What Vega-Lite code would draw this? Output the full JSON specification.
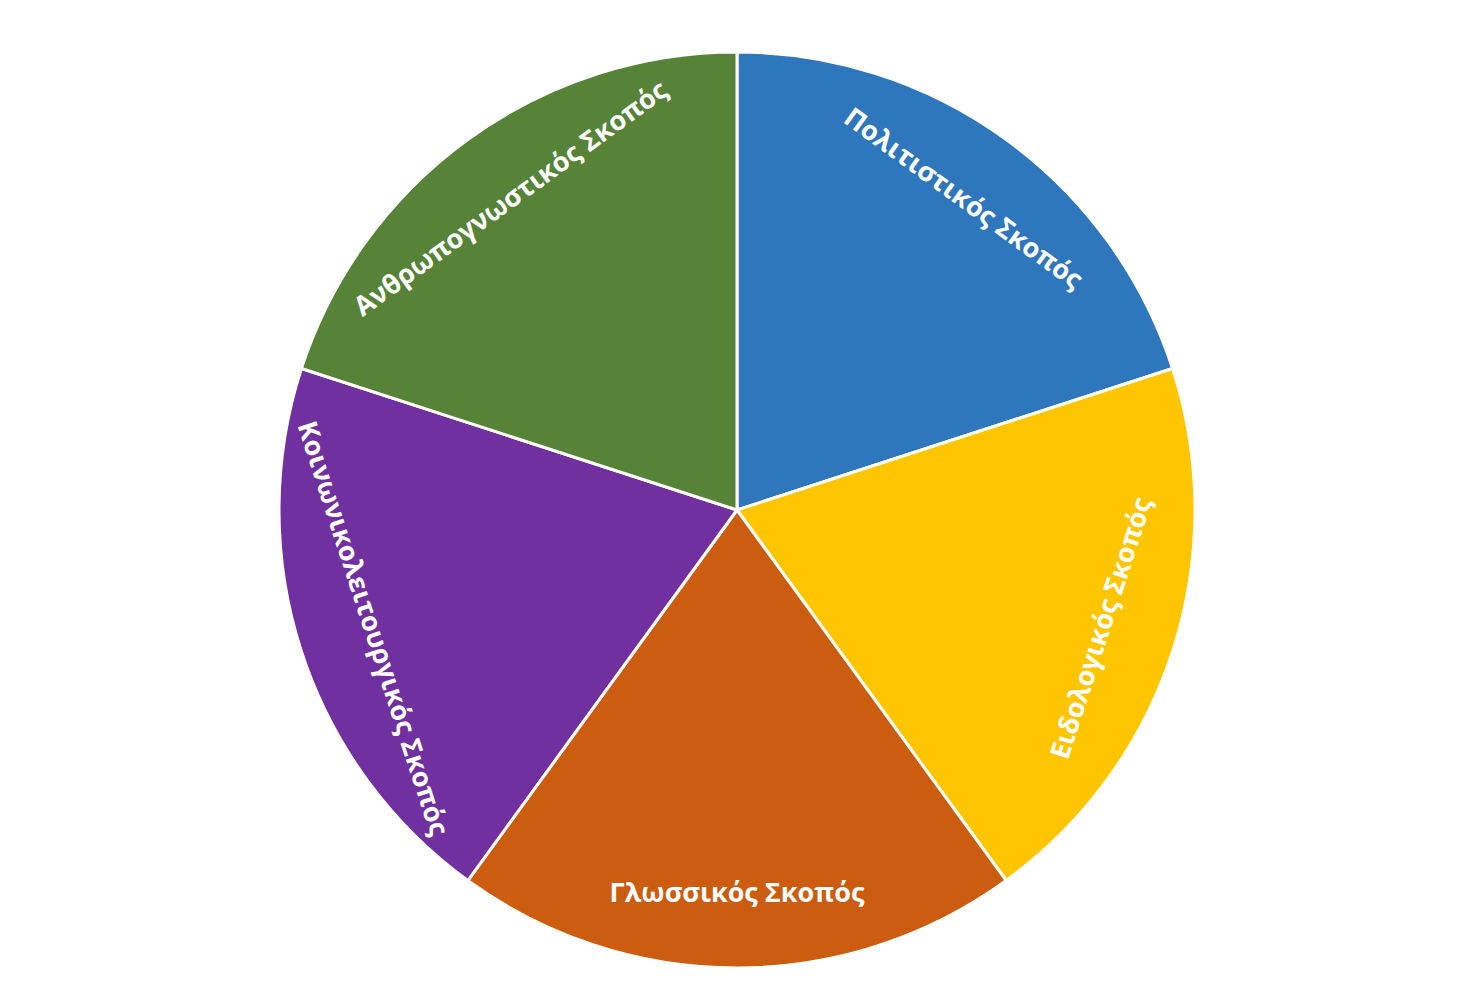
{
  "$schema": "https://vega.github.io/schema/vega-lite/v6.json",
  "autosize": {"type": "fit", "contains": "padding"},
  "width": 1466,
  "height": 987,
  "padding": {"left": 282, "right": 274, "top": 55, "bottom": 22},
  "background": "white",
  "config": {"view": {"stroke": null}},
  "data": {
    "values": [
      {"rank": 1, "label": "Πολιτιστικός  Σκοπός", "share": 20},
      {"rank": 2, "label": "Ειδολογικός Σκοπός", "share": 20},
      {"rank": 3, "label": "Γλωσσικός Σκοπός", "share": 20},
      {"rank": 4, "label": "Κοινωνικολειτουργικός Σκοπός", "share": 20},
      {"rank": 5, "label": "Ανθρωπογνωστικός Σκοπός", "share": 20}
    ]
  },
  "encoding": {
    "theta": {"field": "share", "type": "quantitative", "stack": true},
    "order": {"field": "rank", "type": "quantitative", "sort": "ascending"}
  },
  "layer": [
    {
      "mark": {"type": "arc", "outerRadius": 458, "stroke": "#ffffff", "strokeWidth": 3},
      "encoding": {
        "color": {
          "field": "label",
          "type": "nominal",
          "legend": null,
          "scale": {
            "domain": ["Πολιτιστικός  Σκοπός", "Ειδολογικός Σκοπός", "Γλωσσικός Σκοπός", "Κοινωνικολειτουργικός Σκοπός", "Ανθρωπογνωστικός Σκοπός"],
            "range": ["#2E77BC", "#FFC600", "#CC5C10", "#7030A0", "#568338"]
          }
        }
      }
    },
    {
      "mark": {"type": "text", "radius": 384, "fill": "#ffffff", "font": "Open Sans", "fontWeight": "bold", "fontSize": 27, "align": "center", "baseline": "middle"},
      "encoding": {
        "text": {"field": "label", "type": "nominal"},
        "angle": {
          "field": "label",
          "type": "nominal",
          "legend": null,
          "scale": {
            "type": "ordinal",
            "domain": ["Πολιτιστικός  Σκοπός", "Ειδολογικός Σκοπός", "Γλωσσικός Σκοπός", "Κοινωνικολειτουργικός Σκοπός", "Ανθρωπογνωστικός Σκοπός"],
            "range": [36, -72, 0, 72, -36]
          }
        }
      }
    }
  ]
}
